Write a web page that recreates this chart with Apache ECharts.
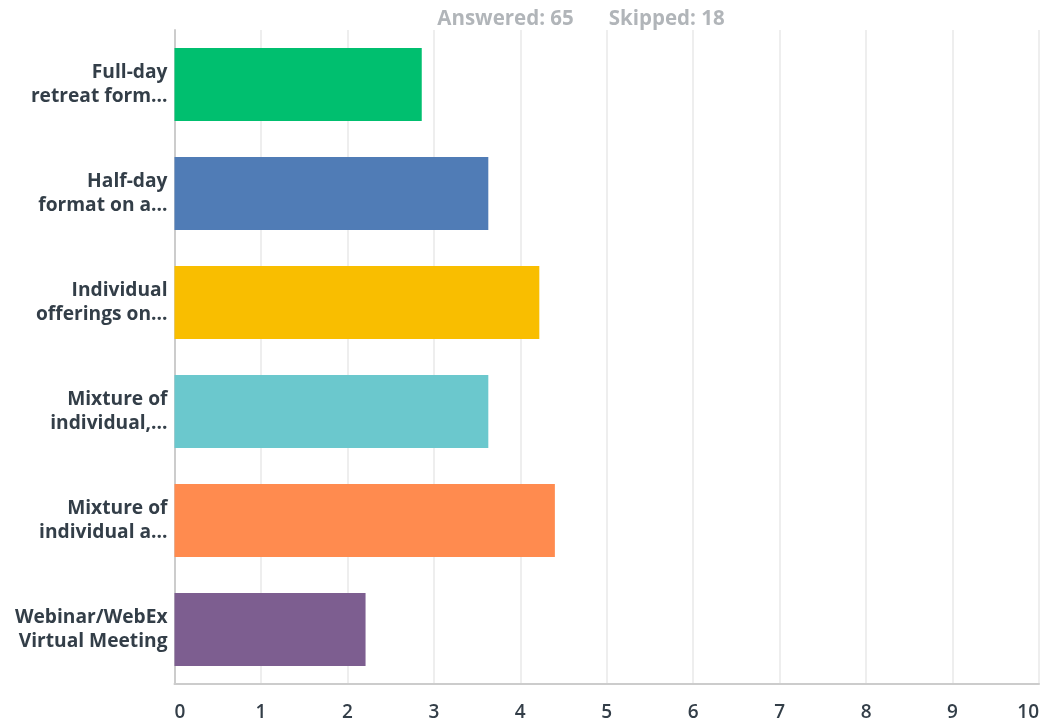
<!DOCTYPE html>
<html><head><meta charset="utf-8">
<script src="https://cdn.jsdelivr.net/npm/echarts@6/dist/echarts.min.js"></script>
<style>html,body{margin:0;padding:0;background:#fff}#c{width:1042px;height:727px}</style>
</head><body><div id="c"></div>
<script>
const categories = ["Full-day\nretreat form...", "Half-day\nformat on a...", "Individual\nofferings on...", "Mixture of\nindividual,...", "Mixture of\nindividual a...", "Webinar/WebEx\nVirtual Meeting"];
const values = [2.86, 3.63, 4.22, 3.63, 4.40, 2.21];
const colors = ["#00bf6f", "#507cb6", "#f9be00", "#6bc8cd", "#ff8b4f", "#7d5e90"];
const xTicks = [0, 1, 2, 3, 4, 5, 6, 7, 8, 9, 10];
const answered = 65, skipped = 18;

const chart = echarts.init(document.getElementById('c'));
chart.setOption({
  animation: false,
  title: {
    text: '{a|Answered: ' + answered + '}{gap|}{a|Skipped: ' + skipped + '}',
    left: 576, textAlign: 'center', top: 4,
    textStyle: {
      rich: {
        a: {color: '#b1b5b9', fontSize: 20.5, fontWeight: 'bold', fontFamily: 'Open Sans'},
        gap: {width: 35}
      }
    }
  },
  grid: {left: 174.5, right: 1.5, top: 30, bottom: 43, containLabel: false},
  xAxis: {
    type: 'value', min: xTicks[0], max: xTicks[xTicks.length - 1], interval: 1,
    axisLine: {show: true, lineStyle: {color: '#cccccc', width: 2}},
    axisTick: {show: false},
    splitLine: {show: true, lineStyle: {color: '#eeeeee', width: 2}},
    axisLabel: {color: '#333e48', fontSize: 19, fontFamily: 'Open Sans', fontWeight: 600, margin: 19,
      alignMinLabel: 'left', alignMaxLabel: 'right'}
  },
  yAxis: {
    type: 'category', data: categories, inverse: true,
    axisLine: {show: true, lineStyle: {color: '#cccccc', width: 2}},
    axisTick: {show: false},
    axisLabel: {color: '#333e48', fontSize: 19.2, fontFamily: 'Open Sans', fontWeight: 'bold', lineHeight: 24, margin: 7}
  },
  series: [{
    type: 'bar', barCategoryGap: '33%',
    data: values.map((v, i) => ({value: v, itemStyle: {color: colors[i]}}))
  }]
});
</script></body></html>
